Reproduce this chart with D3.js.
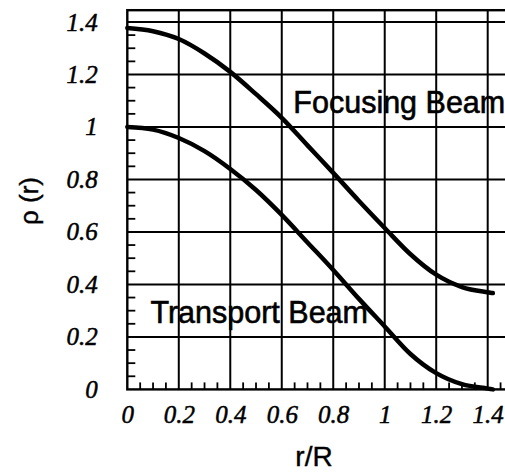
<!DOCTYPE html>
<html>
<head>
<meta charset="utf-8">
<script src="https://cdn.jsdelivr.net/npm/d3@7"></script>
<style>
  body { margin: 0; background: #fff; }
  svg { display: block; }
</style>
</head>
<body>
<div id="chart"></div>
<script>
// values
const radius = [0, 0.1, 0.2, 0.3, 0.4, 0.5, 0.6, 0.7, 0.8, 0.9, 1.0, 1.1, 1.2, 1.3, 1.4, 1.42]
const focusing = [1.377, 1.365, 1.335, 1.28, 1.21, 1.125, 1.035, 0.93, 0.825, 0.718, 0.615, 0.515, 0.437, 0.39, 0.37, 0.367]
const transport = [1.0, 0.99, 0.958, 0.908, 0.84, 0.76, 0.665, 0.56, 0.455, 0.345, 0.24, 0.135, 0.062, 0.02, 0.003, 0.0]
const xTicks = [0, 0.2, 0.4, 0.6, 0.8, 1.0, 1.2, 1.4]
const yTicks = [0, 0.2, 0.4, 0.6, 0.8, 1.0, 1.2, 1.4]
const tickLabels = ['0', '0.2', '0.4', '0.6', '0.8', '1', '1.2', '1.4']
const curveLabels = [
  { text: 'Focusing Beam', r: 0.645, rho: 1.052 },
  { text: 'Transport Beam', r: 0.09, rho: 0.252 }
]

const width = 505
const height = 472

const svg = d3.select('#chart').append('svg')
  .attr('width', width)
  .attr('height', height)

const x = d3.scaleLinear().domain([0, 1.4]).range([127.3, 487.7])
const y = d3.scaleLinear().domain([0, 1.4]).range([389.4, 22])
const xMax = 1.5
const yMax = 1.445

const grid = svg.append('g').attr('stroke', '#000').attr('fill', 'none')

// grid lines
grid.selectAll('.vgrid').data(xTicks.slice(1)).join('line')
  .attr('class', 'vgrid')
  .attr('x1', d => x(d)).attr('x2', d => x(d))
  .attr('y1', y(0)).attr('y2', y(yMax))
  .attr('stroke-width', 2)
grid.selectAll('.hgrid').data(yTicks.slice(1)).join('line')
  .attr('class', 'hgrid')
  .attr('x1', x(0)).attr('x2', x(xMax))
  .attr('y1', d => y(d)).attr('y2', d => y(d))
  .attr('stroke-width', 2)

// minor ticks, inward
const minorY = d3.range(0.05, yMax, 0.05).filter(d => Math.abs(d * 5 - Math.round(d * 5)) > 0.01)
const minorX = d3.range(0.05, xMax, 0.05).filter(d => Math.abs(d * 5 - Math.round(d * 5)) > 0.01)
grid.selectAll('.ymin').data(minorY).join('line')
  .attr('x1', x(0)).attr('x2', x(0) + 8)
  .attr('y1', d => y(d)).attr('y2', d => y(d))
  .attr('stroke-width', 1.8)
grid.selectAll('.xmin').data(minorX).join('line')
  .attr('x1', d => x(d)).attr('x2', d => x(d))
  .attr('y1', y(0)).attr('y2', y(0) - 7)
  .attr('stroke-width', 1.8)

// frame
grid.append('rect')
  .attr('x', x(0)).attr('y', y(yMax))
  .attr('width', x(xMax) - x(0)).attr('height', y(0) - y(yMax))
  .attr('stroke-width', 2.4)

// tick labels
const fmt = d => tickLabels[yTicks.indexOf(d)]
const yAxis = svg.append('g').attr('transform', `translate(${x(0)},0)`)
  .call(d3.axisLeft(y).tickValues(yTicks).tickSize(0).tickPadding(29.6).tickFormat(fmt))
const xAxis = svg.append('g').attr('transform', `translate(0,${y(0)})`)
  .call(d3.axisBottom(x).tickValues(xTicks).tickSize(0).tickPadding(15.5).tickFormat(fmt))
;[yAxis, xAxis].forEach(a => {
  a.select('.domain').remove()
  a.selectAll('text')
    .attr('fill', '#000')
    .attr('stroke', '#000')
    .attr('stroke-width', 0.5)
    .style('font-family', '"Liberation Serif", "Times New Roman", serif')
    .style('font-style', 'italic')
    .style('font-size', '25px')
})

// curves
const line = d3.line()
  .x(d => x(d[0]))
  .y(d => y(d[1]))
  .curve(d3.curveMonotoneX)
;[focusing, transport].forEach(series => {
  svg.append('path')
    .datum(radius.map((r, i) => [r, series[i]]))
    .attr('d', line)
    .attr('fill', 'none')
    .attr('stroke', '#000')
    .attr('stroke-width', 4.5)
    .attr('stroke-linecap', 'round')
})

// curve labels
svg.selectAll('.clabel').data(curveLabels).join('text')
  .attr('x', d => x(d.r))
  .attr('y', d => y(d.rho))
  .text(d => d.text)
  .attr('stroke', '#000')
  .attr('stroke-width', 0.6)
  .style('font-family', '"Liberation Sans", Arial, sans-serif')
  .style('font-size', '30.5px')

// axis titles
svg.append('text')
  .attr('x', 314).attr('y', 466)
  .attr('text-anchor', 'middle')
  .attr('stroke', '#000')
  .attr('stroke-width', 0.4)
  .text('r/R')
  .style('font-family', '"Liberation Sans", Arial, sans-serif')
  .style('font-size', '28px')
svg.append('text')
  .attr('transform', 'translate(38,201) rotate(-90)')
  .attr('text-anchor', 'middle')
  .attr('stroke', '#000')
  .attr('stroke-width', 0.4)
  .text('ρ (r)')
  .style('font-family', '"Liberation Sans", Arial, sans-serif')
  .style('font-size', '26px')
</script>
</body>
</html>
